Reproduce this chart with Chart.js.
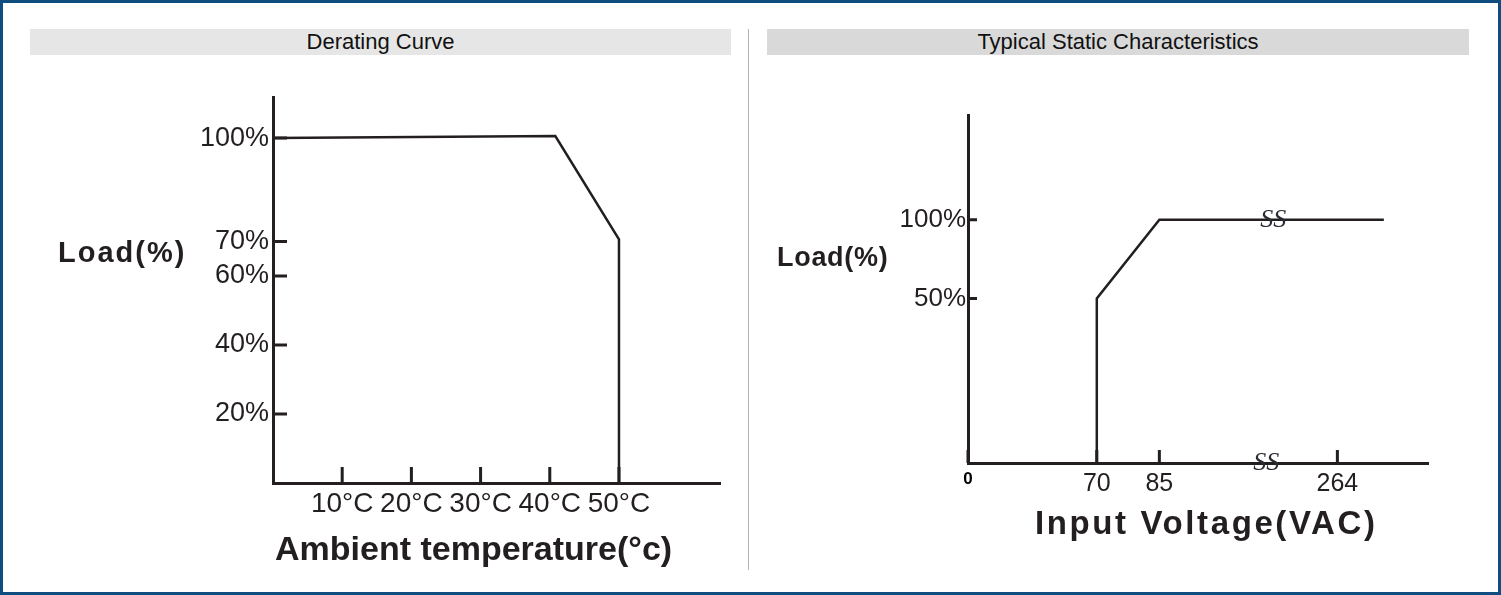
<!DOCTYPE html>
<html>
<head>
<meta charset="utf-8">
<script src="https://cdn.jsdelivr.net/npm/chart.js@4.4.1/dist/chart.umd.min.js"></script>
<style>
  body { margin: 0; width: 1501px; height: 595px; background: #fff; position: relative; overflow: hidden;
         font-family: 'Liberation Sans', Arial, sans-serif; color: #231f20; }
  #frame { position: absolute; left: 0; top: 0; width: 1501px; height: 595px; box-sizing: border-box; border: 3px solid #0f4c80; }
  .bar { position: absolute; top: 29px; height: 26px; line-height: 26px; font-size: 22px; text-align: center; color: #111; }
  #sep { position: absolute; left: 748px; top: 29px; width: 1px; height: 541px; background: #b4b4b4; }
  .ttl { position: absolute; font-weight: bold; line-height: 1; white-space: nowrap; }
  .cv { position: absolute; top: 0; }
</style>
</head>
<body>
<div id="frame"></div>
<div class="bar" style="left:30px;width:701px;background:#e6e6e6">Derating Curve</div>
<div class="bar" style="left:767px;width:702px;background:#d9d9d9">Typical Static Characteristics</div>
<div id="sep"></div>

<div class="cv" style="left:0"><canvas id="derating" width="748" height="595"></canvas></div>
<div class="cv" style="left:748px"><canvas id="static" width="753" height="595"></canvas></div>

<div class="ttl" style="left:58px;top:238px;font-size:29px;letter-spacing:2px">Load(%)</div>
<div class="ttl" style="left:275px;top:531px;font-size:34px">Ambient temperature(°c)</div>
<div class="ttl" style="left:777px;top:244px;font-size:27px;letter-spacing:0.7px">Load(%)</div>
<div class="ttl" style="left:1035px;top:506px;font-size:33px;letter-spacing:2.6px">Input Voltage(VAC)</div>

<script>
// Derating curve
const tempTicks = [10, 20, 30, 40, 50];
const deratingLoadTicks = [20, 40, 60, 70, 100];
const deratingTemp = [0, 40.8, 50, 50];
const deratingLoad = [100, 100.6, 70.6, 0];

// Static characteristics (sketch, axes are not to scale)
const vinTicks = [0, 70, 85, 264];
const staticLoadTicks = [50, 100];
const staticVin = [70, 70, 85, 300];
const staticLoad = [0, 50, 100, 100];

// where the sketch puts each value along its axis (percent of axis length)
const vinStopV = [0, 70, 85, 264, 300];
const vinStopA = [0, 28.0, 41.6, 80.3, 90.4];
const loadStopV = [0, 50, 100];
const loadStopA = [0, 47.3, 69.9];

const INK = '#231f20';
const FONT = "'Liberation Sans', Arial, sans-serif";

// linear scale with a piecewise (broken) mapping, for the not-to-scale sketch
class BrokenScale extends Chart.LinearScale {
  toAxis(v) {
    const sv = this.options.stopValues, sa = this.options.stopAxis;
    for (let i = 1; i < sv.length; i++) {
      if (v <= sv[i] || i === sv.length - 1) {
        return sa[i - 1] + (v - sv[i - 1]) * (sa[i] - sa[i - 1]) / (sv[i] - sv[i - 1]);
      }
    }
    return sa[0];
  }
  getPixelForValue(v) {
    return super.getPixelForValue(this.toAxis(v));
  }
}
BrokenScale.id = 'broken';
BrokenScale.defaults = Chart.LinearScale.defaults;
Chart.register(BrokenScale);

// tick marks drawn inside the plot, like the datasheet drawing
const innerTicks = {
  id: 'innerTicks',
  afterDatasetsDraw(chart, args, opts) {
    const { ctx, chartArea } = chart;
    const xs = chart.scales.x, ys = chart.scales.y;
    ctx.save();
    ctx.strokeStyle = INK;
    ctx.lineWidth = 3;
    ctx.beginPath();
    xs.ticks.forEach((t, i) => {
      const px = xs.getPixelForTick(i);
      ctx.moveTo(px, chartArea.bottom);
      ctx.lineTo(px, chartArea.bottom - opts.x);
    });
    ys.ticks.forEach((t, i) => {
      const py = ys.getPixelForTick(i);
      ctx.moveTo(chartArea.left, py);
      ctx.lineTo(chartArea.left + opts.y, py);
    });
    ctx.stroke();
    ctx.restore();
  }
};

// "SS" break marks on the broken axis and line
const breakMarks = {
  id: 'breakMarks',
  afterDraw(chart, args, opts) {
    if (!opts.marks) return;
    const { ctx } = chart;
    const xs = chart.scales.x, ys = chart.scales.y;
    const a0 = xs.toAxis(opts.between[0]), a1 = xs.toAxis(opts.between[1]);
    ctx.save();
    ctx.font = "italic 26px 'Liberation Serif', 'Times New Roman', serif";
    ctx.fillStyle = '#2b2b33';
    ctx.textAlign = 'center';
    ctx.textBaseline = 'middle';
    opts.marks.forEach(m => {
      const a = a0 + (a1 - a0) * m.at;
      const px = Chart.LinearScale.prototype.getPixelForValue.call(xs, a);
      ctx.fillText('SS', px, ys.getPixelForValue(m.load));
    });
    ctx.restore();
  }
};

function fixedTicks(values) {
  return scale => { scale.ticks = values.map(v => ({ value: v })); };
}

new Chart(document.getElementById('derating'), {
  type: 'line',
  data: {
    datasets: [{
      data: deratingTemp.map((t, i) => ({ x: t, y: deratingLoad[i] })),
      borderColor: INK,
      borderWidth: 2.5,
      pointRadius: 0,
      tension: 0
    }]
  },
  options: {
    responsive: false,
    animation: false,
    events: [],
    layout: { padding: { left: 173, top: 97, right: 28, bottom: 52 } },
    plugins: { legend: { display: false }, tooltip: { enabled: false }, innerTicks: { x: 16, y: 14 } },
    scales: {
      x: {
        type: 'linear', min: 0, max: 64.6,
        afterBuildTicks: fixedTicks(tempTicks),
        afterFit: s => { s.height = 60; },
        grid: { drawOnChartArea: false, drawTicks: false },
        border: { display: true, color: INK, width: 3 },
        ticks: { padding: 4, color: INK, font: { family: FONT, size: 28 }, maxRotation: 0, callback: v => v + '°C' }
      },
      y: {
        type: 'linear', min: 0, max: 111.9,
        afterBuildTicks: fixedTicks(deratingLoadTicks),
        afterFit: s => { s.width = 100; },
        grid: { drawOnChartArea: false, drawTicks: false },
        border: { display: true, color: INK, width: 3 },
        ticks: { padding: 4, color: INK, font: { family: FONT, size: 27 }, callback: v => v + '%' }
      }
    }
  },
  plugins: [innerTicks]
});

new Chart(document.getElementById('static'), {
  type: 'line',
  data: {
    datasets: [{
      data: staticVin.map((v, i) => ({ x: v, y: staticLoad[i] })),
      borderColor: INK,
      borderWidth: 2.5,
      pointRadius: 0,
      tension: 0
    }]
  },
  options: {
    responsive: false,
    animation: false,
    events: [],
    layout: { padding: { left: 120, top: 115, right: 73, bottom: 72 } },
    plugins: {
      legend: { display: false }, tooltip: { enabled: false },
      innerTicks: { x: 13, y: 9 },
      breakMarks: { between: [85, 264], marks: [{ load: 0, at: 0.6 }, { load: 100, at: 0.64 }] }
    },
    scales: {
      x: {
        type: 'broken', min: 0, max: 100,
        stopValues: vinStopV, stopAxis: vinStopA,
        afterBuildTicks: fixedTicks(vinTicks),
        afterFit: s => { s.height = 60; },
        grid: { drawOnChartArea: false, drawTicks: false },
        border: { display: true, color: INK, width: 3 },
        ticks: {
          padding: 6, maxRotation: 0, autoSkip: false,
          color: c => c.tick && c.tick.value === 0 ? '#000' : INK,
          font: c => c.tick && c.tick.value === 0
            ? { family: FONT, size: 17, weight: 'bold' }
            : { family: FONT, size: 25 },
          callback: v => String(v)
        }
      },
      y: {
        type: 'broken', min: 0, max: 100,
        stopValues: loadStopV, stopAxis: loadStopA,
        afterBuildTicks: fixedTicks(staticLoadTicks),
        afterFit: s => { s.width = 100; },
        grid: { drawOnChartArea: false, drawTicks: false },
        border: { display: true, color: INK, width: 3 },
        ticks: { padding: 2, color: INK, font: { family: FONT, size: 26 }, callback: v => v + '%' }
      }
    }
  },
  plugins: [innerTicks, breakMarks]
});
</script>
</body>
</html>
